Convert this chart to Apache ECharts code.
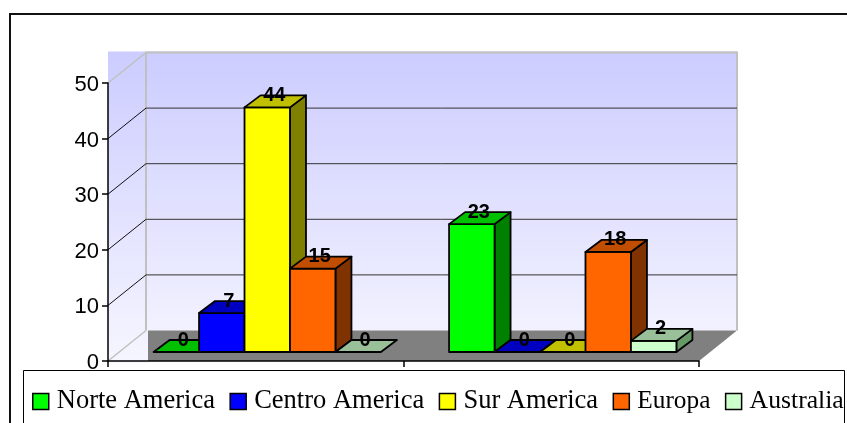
<!DOCTYPE html>
<html><head><meta charset="utf-8">
<style>html,body{margin:0;padding:0;background:#fff}#c{width:847px;height:423px}</style>
<script src="https://cdn.jsdelivr.net/npm/echarts@6/dist/echarts.min.js"></script>
</head><body><div id="c"></div>
<script>
const categories = ['Grupo 1', 'Grupo 2'];
const seriesNames = ['Norte America', 'Centro America', 'Sur America', 'Europa', 'Australia'];
const norteAmerica = [0, 23];
const centroAmerica = [7, 0];
const surAmerica = [44, 0];
const europa = [15, 18];
const australia = [0, 2];
const yTicks = [0, 10, 20, 30, 40, 50];
const frontColors = ['#00ff00', '#0000ff', '#ffff00', '#ff6600', '#ccffcc'];
const topColors = ['#00c000', '#0000c0', '#c0c000', '#c04d00', '#99c099'];
const sideColors = ['#008000', '#000080', '#808000', '#803300', '#669966'];
const allValues = [norteAmerica, centroAmerica, surAmerica, europa, australia];
const legendFontSizes = [26.5, 26.5, 26.5, 25.3, 25.7];

const WALL = [38, -30.5], BAR_OFF = [11.5, -9], DEPTH = [16, -12];
const chart = echarts.init(document.getElementById('c'), null, {renderer: 'canvas'});

function renderBackground(params, api) {
  const tick = api.value(0);
  const p = api.coord([0, tick]);
  const band = api.size([1, 0])[0];
  const x0 = p[0] - band / 2, x1 = x0 + band * 2;
  const y = p[1];
  const kids = [];
  if (tick === 0) {
    const top = api.coord([0, 50])[1] + WALL[1];
    kids.push({type: 'polygon', shape: {points: [
      [x0, top - 1], [x1 + WALL[0], top - 1], [x1 + WALL[0], y + WALL[1]],
      [x0 + WALL[0] + 2, y + WALL[1]], [x0 + WALL[0] + 2, y + 2], [x0, y + 2]]},
      style: {fill: new echarts.graphic.LinearGradient(0, 0, 0, 1, [
        {offset: 0, color: '#ccccff'}, {offset: 1, color: '#f6f6ff'}])}});
    kids.push({type: 'polygon', shape: {points: [
      [x0 + WALL[0] + 2, y + WALL[1]], [x1 + WALL[0], y + WALL[1]], [x1, y], [x0 + WALL[0] + 2, y]]},
      style: {fill: '#808080'}});
    kids.push({type: 'polyline', shape: {points: [
      [x0 + WALL[0], y + WALL[1]], [x0 + WALL[0], top], [x1 + WALL[0], top], [x1 + WALL[0], y + WALL[1]]]},
      style: {fill: 'none', stroke: '#c0c0c0', lineWidth: 2}});
  }
  const edge = tick === 0 || tick === 50;
  kids.push({type: 'line', shape: {x1: x0, y1: y, x2: x0 + WALL[0], y2: y + WALL[1]},
    style: {stroke: edge ? '#c0c0c0' : '#111', lineWidth: edge ? 1.5 : 1}});
  if (!edge) {
    kids.push({type: 'line', shape: {x1: x0 + WALL[0], y1: y + WALL[1], x2: x1 + WALL[0], y2: y + WALL[1]},
      style: {stroke: '#333', lineWidth: 1}});
  }
  return {type: 'group', children: kids};
}

function renderBar(si) {
  return function (params, api) {
    const cat = api.value(0), val = api.value(1);
    const base = api.coord([cat, 0]), top = api.coord([cat, val]);
    const w = api.size([1, 0])[0] / 6.5;
    const xl = base[0] + (si - 2.5) * w + BAR_OFF[0], xr = xl + w;
    const yb = base[1] + BAR_OFF[1], yt = top[1] + BAR_OFF[1];
    const dx = DEPTH[0], dy = DEPTH[1];
    const line = {stroke: '#000', lineWidth: 1.8, lineJoin: 'round'};
    const kids = [];
    if (val > 0) {
      kids.push({type: 'polygon', shape: {points: [[xr, yt], [xr + dx, yt + dy], [xr + dx, yb + dy], [xr, yb]]},
        style: Object.assign({fill: sideColors[si]}, line)});
      kids.push({type: 'rect', shape: {x: xl, y: yt, width: w, height: yb - yt},
        style: Object.assign({fill: frontColors[si]}, line)});
    }
    kids.push({type: 'polygon', shape: {points: [[xl, yt], [xl + dx, yt + dy], [xr + dx, yt + dy], [xr, yt]]},
      style: Object.assign({fill: topColors[si]}, line)});
    kids.push({type: 'text', z2: 100, style: {text: String(val), x: (xl + xr) / 2 + 7, y: yt - 12,
      align: 'center', verticalAlign: 'middle', fill: '#000',
      font: 'bold 20px "Liberation Sans", Arial, sans-serif'}});
    return {type: 'group', children: kids};
  };
}

const series = [{
  type: 'custom', name: '_fondo', z: 1, silent: true, xAxisIndex: 0, yAxisIndex: 0,
  renderItem: renderBackground, encode: {x: 0, y: -1}, clip: false,
  data: yTicks.map(t => [t]), animation: false
}];
seriesNames.forEach((n, si) => series.push({
  type: 'custom', name: n, z: 2, clip: false, animation: false,
  itemStyle: {color: frontColors[si]},
  renderItem: renderBar(si), encode: {x: 0, y: 1},
  data: categories.map((c, i) => [i, allValues[si][i]])
}));

chart.setOption({
  animation: false,
  backgroundColor: '#ffffff',
  grid: {left: 108, right: 148, top: 83, bottom: 62},
  xAxis: {type: 'category', data: categories, boundaryGap: true, z: 5,
    axisLine: {lineStyle: {color: '#000', width: 1.5}},
    axisTick: {show: true, length: 6, lineStyle: {color: '#000', width: 1.5}},
    axisLabel: {show: false}, splitLine: {show: false}},
  yAxis: {type: 'value', min: 0, max: 50, interval: 10, z: 5,
    axisLine: {show: true, lineStyle: {color: '#000', width: 1.5}},
    axisTick: {show: true, length: 6, lineStyle: {color: '#000', width: 1.5}},
    axisLabel: {margin: 9, formatter: '{t|{value}}',
      rich: {t: {color: '#000', fontSize: 22, fontFamily: '"Liberation Sans", Arial, sans-serif', padding: [4, 0, 0, 0]}}},
    splitLine: {show: false}},
  legend: {
    data: seriesNames.map((name, i) => ({name, textStyle: {fontSize: legendFontSizes[i]}})),
    left: 32, top: 388, width: 900, orient: 'horizontal', icon: 'rect',
    itemWidth: 16, itemHeight: 16, itemGap: 14.5, selectedMode: false, padding: 0,
    itemStyle: {borderColor: '#000', borderWidth: 1.5},
    textStyle: {color: '#000', fontSize: 26.5, fontFamily: '"Liberation Serif", "Times New Roman", serif', padding: [2, 0, 0, 3]}
  },
  graphic: [
    {type: 'rect', z: -1, shape: {x: 10, y: 14, width: 900, height: 500},
      style: {fill: '#fff', stroke: '#111', lineWidth: 2}},
    {type: 'rect', z: 3, shape: {x: 23.5, y: 370.5, width: 821, height: 80},
      style: {fill: '#fff', stroke: '#000', lineWidth: 1}}
  ],
  series
});
</script></body></html>
